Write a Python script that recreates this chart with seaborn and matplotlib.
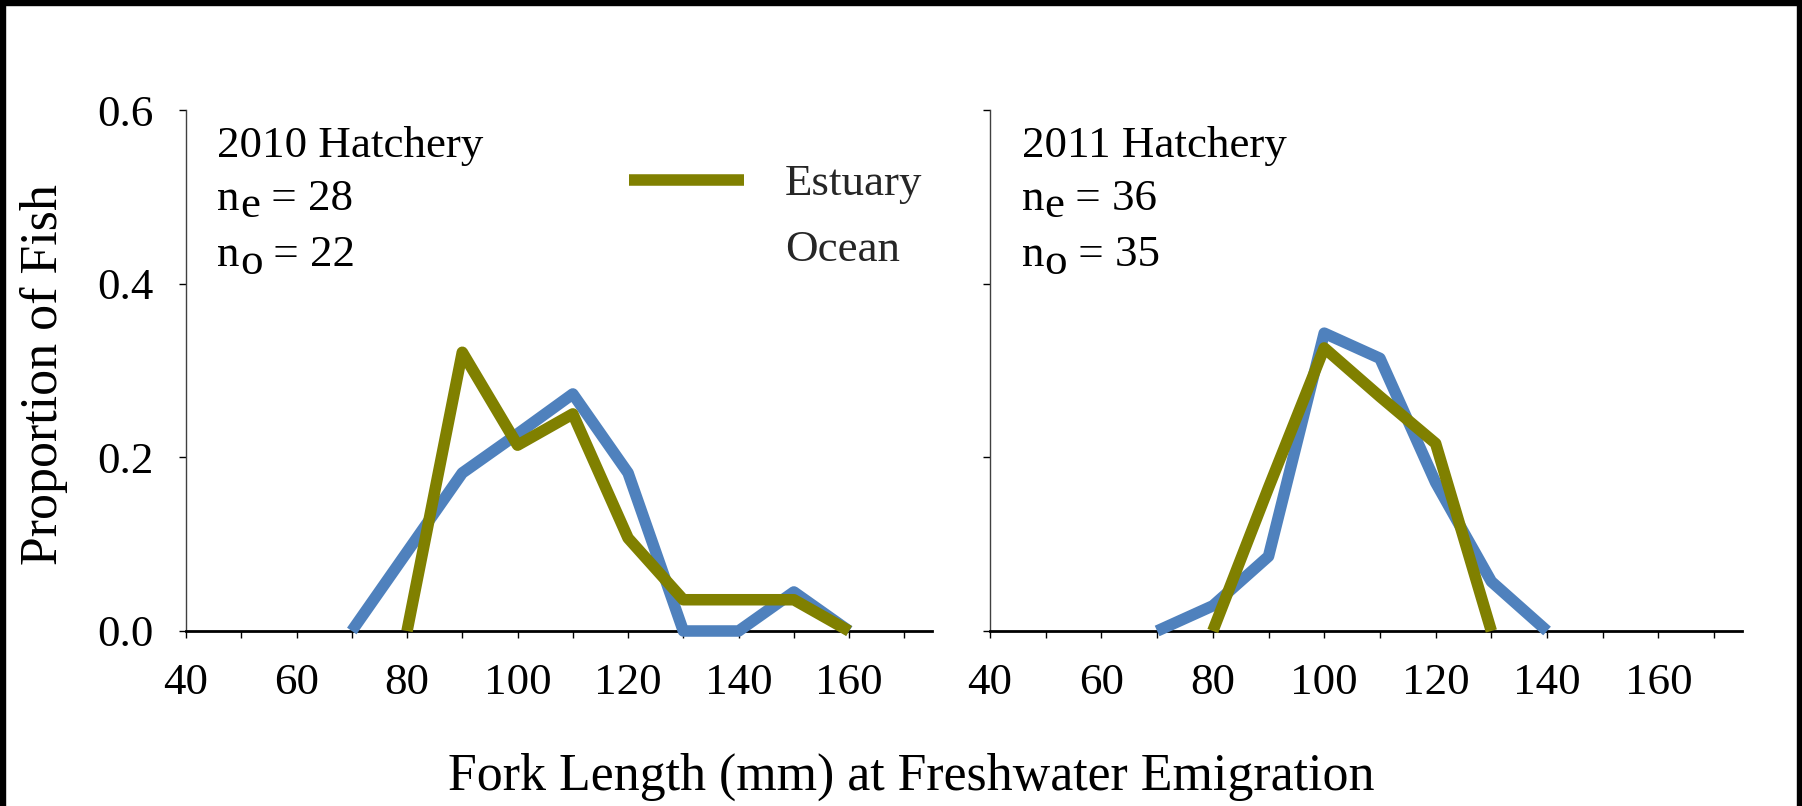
import matplotlib
matplotlib.use("Agg")
import matplotlib.pyplot as plt
import seaborn as sns
import pandas as pd
from matplotlib.lines import Line2D
from matplotlib.patches import Rectangle

# ---------------- data ----------------
fork_ocean_2010 = [70, 80, 90, 100, 110, 120, 130, 140, 150, 160]
prop_ocean_2010 = [0.0, 0.091, 0.182, 0.227, 0.273, 0.182, 0.0, 0.0, 0.045, 0.0]
fork_estuary_2010 = [80, 90, 100, 110, 120, 130, 140, 150, 160]
prop_estuary_2010 = [0.0, 0.321, 0.214, 0.250, 0.107, 0.036, 0.036, 0.036, 0.0]

fork_ocean_2011 = [70, 80, 90, 100, 110, 120, 130, 140]
prop_ocean_2011 = [0.0, 0.029, 0.086, 0.343, 0.314, 0.171, 0.057, 0.0]
fork_estuary_2011 = [80, 90, 100, 110, 120, 130]
prop_estuary_2011 = [0.0, 0.165, 0.326, 0.270, 0.216, 0.0]

panel_titles = ["2010 Hatchery", "2011 Hatchery"]
n_estuary = ["28", "36"]
n_ocean = ["22", "35"]
groups = ["Ocean", "Estuary"]
x_tick_values = list(range(40, 171, 10))
x_tick_labels = [str(v) if v % 20 == 0 and v <= 160 else "" for v in x_tick_values]
y_tick_values = [0.0, 0.2, 0.4, 0.6]
y_tick_labels = ["0.0", "0.2", "0.4", "0.6"]

palette = {"Ocean": "#4F81BD", "Estuary": "#808000"}

# ---------------- style ----------------
sns.set_theme(style="white")
plt.rcParams["font.family"] = ["Liberation Serif", "DejaVu Serif"]

W, H = 1802, 806
FS = 32.4
FS_LAB = 37.4

fig = plt.figure(figsize=(W / 100, H / 100), dpi=100)
fig.patch.set_facecolor("white")


def make_df(fo, po, fe, pe):
    d1 = pd.DataFrame({"fork": fo, "prop": po, "group": "Ocean"})
    d2 = pd.DataFrame({"fork": fe, "prop": pe, "group": "Estuary"})
    return pd.concat([d1, d2], ignore_index=True)


dfs = [
    make_df(fork_ocean_2010, prop_ocean_2010, fork_estuary_2010, prop_estuary_2010),
    make_df(fork_ocean_2011, prop_ocean_2011, fork_estuary_2011, prop_estuary_2011),
]

ax_left = [186, 990]
ax_right = [932, 1742]
y0_px, y1_px = 631, 110

axes = []
for i in range(2):
    ax = fig.add_axes([ax_left[i] / W, 1 - y0_px / H,
                       (ax_right[i] - ax_left[i]) / W, (y0_px - y1_px) / H])
    axes.append(ax)
    sns.lineplot(data=dfs[i], x="fork", y="prop", hue="group",
                 hue_order=groups, palette=palette, linewidth=8.3,
                 legend=False, ax=ax, sort=False, estimator=None)
    for ln in ax.get_lines():
        ln.set_clip_on(False)
        ln.set_zorder(3)
        ln.set_solid_capstyle("butt")
        ln.set_solid_joinstyle("round")
    ax.set_xlim(40, 175)
    ax.set_ylim(0, 0.6)
    ax.set_xticks(x_tick_values)
    ax.set_xticklabels(x_tick_labels)
    ax.set_yticks(y_tick_values)
    if i == 0:
        ax.set_yticklabels(y_tick_labels)
    else:
        ax.set_yticklabels([])
    ax.set_xlabel("")
    ax.set_ylabel("")
    for s in ["top", "right"]:
        ax.spines[s].set_visible(False)
    ax.spines["left"].set_color("#404040")
    ax.spines["left"].set_linewidth(1.0)
    ax.spines["bottom"].set_color("black")
    ax.spines["bottom"].set_linewidth(2.0)
    ax.tick_params(axis="both", direction="out", length=5, width=1.0,
                   color="black", labelsize=FS, pad=18, labelcolor="black",
                   bottom=True, left=True)
    ax.set_facecolor("none")
    ax.grid(False)

    # panel annotations
    tx = 45.7
    ax.text(tx, 0.546, panel_titles[i], fontsize=FS, va="baseline", ha="left",
            color="black")
    for yv, sub, num in [(0.485, "e", n_estuary[i]), (0.420, "o", n_ocean[i])]:
        t1 = ax.text(tx, yv, "n", fontsize=FS, va="baseline", ha="left",
                     color="black")
        t2 = ax.annotate(sub, xy=(1, 0), xycoords=t1, xytext=(0, -5.5),
                         textcoords="offset points", fontsize=FS,
                         va="bottom", ha="left", color="black")
        ax.annotate(" = " + num, xy=(1, 0), xycoords=(t2, t1),
                    fontsize=FS, va="bottom", ha="left", color="black")

# legend (Ocean entry has no visible line in the original)
handles = [Line2D([], [], color=palette["Estuary"], lw=8.3, solid_capstyle="butt"),
           Line2D([], [], color="none", lw=8.3)]
axes[0].legend(handles, ["Estuary", "Ocean"], loc="upper left",
               bbox_to_anchor=(629 / W, 1 - 164 / H), bbox_transform=fig.transFigure,
               frameon=False, fontsize=FS, handlelength=2.56, handletextpad=0.91,
               labelspacing=0.55, borderpad=0, borderaxespad=0)

# axis titles
fig.text(911 / W, 1 - 790 / H, "Fork Length (mm) at Freshwater Emigration",
         fontsize=FS_LAB, ha="center", va="baseline", color="black")
fig.text(44 / W, 1 - 375 / H, "Proportion of Fish", fontsize=FS_LAB,
         rotation=90, ha="center", va="center", color="black")

# black frame (top, left, right)
b = 5
for (x, y, w, h) in [(0, H - b, W, b), (0, 0, b, H), (W - b, 0, b, H)]:
    fig.patches.append(Rectangle((x / W, y / H), w / W, h / H,
                                 transform=fig.transFigure, color="black",
                                 zorder=10))

fig.savefig("out.png", dpi=100)
